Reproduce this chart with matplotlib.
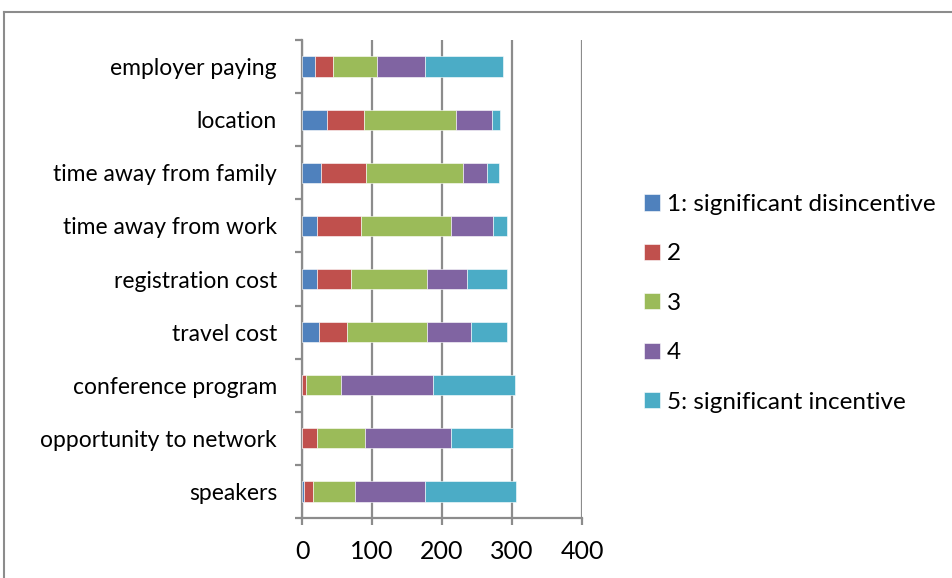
import matplotlib.pyplot as plt
import numpy as np
from matplotlib.lines import Line2D

plt.rcParams['font.family'] = ['Lato', 'DejaVu Sans']

# categories listed bottom to top
categories = ["speakers", "opportunity to network", "conference program",
              "travel cost", "registration cost", "time away from work",
              "time away from family", "location", "employer paying"]

# number of responses per rating
rating_1 = [3, 0, 0, 24, 21, 21, 27, 35, 18]
rating_2 = [12, 21, 6, 40, 49, 63, 65, 54, 26]
rating_3 = [61, 69, 50, 115, 109, 129, 138, 131, 63]
rating_4 = [100, 123, 131, 63, 57, 60, 34, 52, 69]
rating_5 = [129, 88, 117, 51, 57, 20, 17, 11, 111]

series = [rating_1, rating_2, rating_3, rating_4, rating_5]
series_labels = ["1: significant disincentive", "2", "3", "4",
                 "5: significant incentive"]
colors = ["#4F81BD", "#C0504D", "#9BBB59", "#8064A2", "#4BACC6"]

x_ticks = [0, 100, 200, 300, 400]

grey = "#8c8c8c"

fig = plt.figure(figsize=(9.53, 5.78), dpi=100)
ax = fig.add_axes([302 / 953, 60 / 578, 280 / 953, 478 / 578])

y = np.arange(len(categories))
left = np.zeros(len(categories))
for vals, col, lab in zip(series, colors, series_labels):
    ax.barh(y, vals, left=left, height=0.38, color=col, edgecolor="white",
            linewidth=0.4, label=lab, zorder=3)
    left += np.array(vals)

ax.set_xlim(0, 400)
ax.set_ylim(-0.5, len(categories) - 0.5)
ax.set_xticks(x_ticks)
ax.set_xticklabels([str(v) for v in x_ticks], fontsize=18)
ax.set_yticks(y)
ax.set_yticklabels(categories, fontsize=16.5)
ax.set_yticks(np.arange(-0.5, len(categories), 1), minor=True)

ax.tick_params(axis="y", which="major", length=0, pad=18)
ax.tick_params(axis="y", which="minor", length=5, width=1.6, color=grey)
ax.tick_params(axis="x", length=5, width=1.6, color=grey, pad=11)

ax.grid(axis="x", color=grey, linewidth=1.6, zorder=0)
for s in ["top", "right"]:
    ax.spines[s].set_visible(False)
for s in ["left", "bottom"]:
    ax.spines[s].set_color(grey)
    ax.spines[s].set_linewidth(1.6)

ax.legend(loc="upper left", bbox_to_anchor=(644 / 953, 1 - 194 / 578),
          bbox_transform=fig.transFigure, frameon=False, fontsize=17.5,
          handlelength=0.65, handleheight=0.65, handletextpad=0.3,
          labelspacing=1.17, borderpad=0, borderaxespad=0)

# outer chart border
fig.add_artist(Line2D([4 / 953, 4 / 953], [0, 1 - 12 / 578],
                      transform=fig.transFigure, color=grey, linewidth=1.5))
fig.add_artist(Line2D([4 / 953, 1], [1 - 12 / 578, 1 - 12 / 578],
                      transform=fig.transFigure, color=grey, linewidth=1.5))

fig.savefig("out.png", dpi=100)
